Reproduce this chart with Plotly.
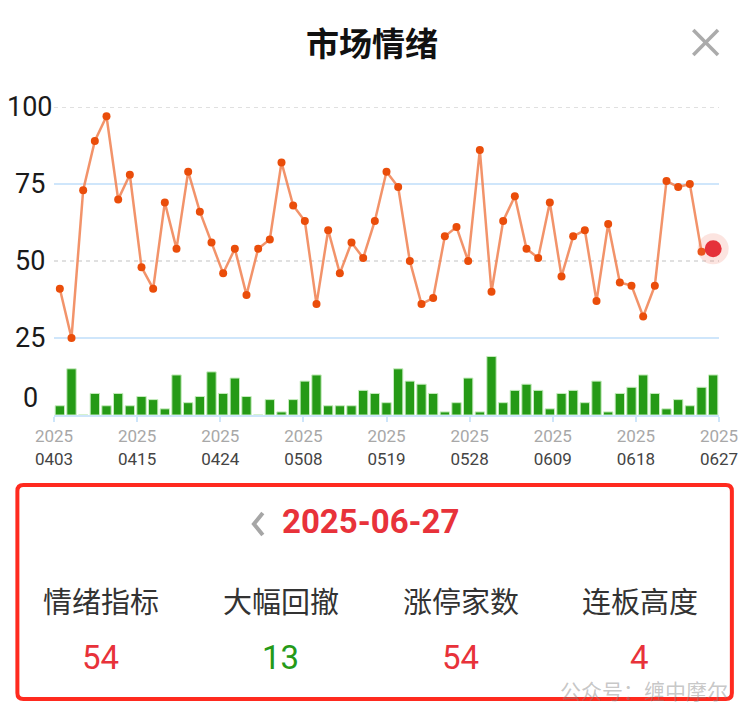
import plotly.graph_objects as go

# ---------------- data ----------------
trade_dates = [
    "0403", "0407", "0408", "0409", "0410", "0411", "0414", "0415", "0416", "0417",
    "0418", "0421", "0422", "0423", "0424", "0425", "0428", "0429", "0430",
    "0506", "0507", "0508", "0509", "0512", "0513", "0514", "0515", "0516", "0519",
    "0520", "0521", "0522", "0523", "0526", "0527", "0528", "0529", "0530",
    "0603", "0604", "0605", "0606", "0609", "0610", "0611", "0612", "0613", "0616",
    "0617", "0618", "0619", "0620", "0623", "0624", "0625", "0626", "0627",
]
sentiment = [41, 25, 73, 89, 97, 70, 78, 48, 41, 69, 54, 79, 66, 56, 46, 54, 39,
             54, 57, 82, 68, 63, 36, 60, 46, 56, 51, 63, 79, 74, 50, 36, 38, 58,
             61, 50, 86, 40, 63, 71, 54, 51, 69, 45, 58, 60, 37, 62, 43, 42, 32,
             42, 76, 74, 75, 53, 54]
drawdown = [3, 15, 0, 7, 3, 7, 3, 6, 5, 2, 13, 4, 6, 14, 7, 12, 6, 0, 5, 1, 5,
            11, 13, 3, 3, 3, 8, 7, 4, 15, 11, 10, 7, 1, 4, 12, 1, 19, 4, 8, 10,
            8, 2, 7, 8, 4, 11, 1, 7, 9, 13, 7, 2, 5, 3, 9, 13]
tick_year = "2025"
tick_days = ["0403", "0415", "0424", "0508", "0519", "0528", "0609", "0618", "0627"]
y_labels = [100, 75, 50, 25, 0]
summary_date = "2025-06-27"
summary_names = ["情绪指标", "大幅回撤", "涨停家数", "连板高度"]
summary_values = ["54", "13", "54", "4"]
summary_colors = ["#e8323a", "#259a18", "#e8323a", "#e8323a"]
title_text = "市场情绪"
watermark = "公众号：缠中摩尔"

# ---------------- layout geometry ----------------
W, H = 750, 714
L, R, T, B = 54, 24, 107, 299
PW, PH = W - L - R, H - T - B


def px(x):
    return (x - L) / PW


def py(y):
    return (H - B - y) / PH


n = len(trade_dates)
xs = list(range(n))
tickvals = [-0.5 + k * n / (len(tick_days) - 1) for k in range(len(tick_days))]
ticktext = [f"<span style='color:#a8a8a8'>{tick_year}</span><br>{d}" for d in tick_days]

fig = go.Figure()
fig.add_trace(go.Bar(
    x=xs, y=drawdown, width=0.8,
    marker=dict(color="#259a16", line=dict(color="#c6ecbe", width=1)),
    hoverinfo="skip", showlegend=False))
fig.add_trace(go.Scatter(
    x=xs, y=sentiment, mode="lines+markers",
    line=dict(color="rgba(240,128,80,0.85)", width=2.5),
    marker=dict(color="#ea4d0a", size=8),
    cliponaxis=False, showlegend=False))
fig.add_trace(go.Scatter(
    x=[xs[-1]], y=[sentiment[-1]], mode="markers",
    marker=dict(color="rgba(240,120,100,0.2)", size=31),
    cliponaxis=False, showlegend=False))
fig.add_trace(go.Scatter(
    x=[xs[-1]], y=[sentiment[-1]], mode="markers",
    marker=dict(color="#e5313a", size=17),
    cliponaxis=False, showlegend=False))

shapes = []
for v in [100, 75, 50, 25]:
    if v in (75, 25):
        ln = dict(color="#cfe6fb", width=2)
    else:
        ln = dict(color="#d6d6d6", width=1.5, dash="4px,4px")
    shapes.append(dict(type="line", xref="paper", yref="y", x0=0, x1=1, y0=v, y1=v,
                       line=ln, layer="below"))

# close icon
shapes.append(dict(type="line", xref="paper", yref="paper", x0=px(700), y0=py(30),
                   x1=px(725), y1=py(55), line=dict(color="#ababab", width=3.5)))
shapes.append(dict(type="line", xref="paper", yref="paper", x0=px(725), y0=py(30),
                   x1=px(700), y1=py(55), line=dict(color="#ababab", width=3.5)))
# chevron
shapes.append(dict(type="path", xref="paper", yref="paper",
                   path=f"M {px(265)},{py(513)} L {px(256)},{py(524)} L {px(265)},{py(535)}",
                   line=dict(color="#a6a6a6", width=4)))
# red rounded frame
x0, x1, y0, y1, r = 17, 739, 485, 699, 6
path = (f"M {px(x0 + r)},{py(y0)} L {px(x1 - r)},{py(y0)} Q {px(x1)},{py(y0)} {px(x1)},{py(y0 + r)} "
        f"L {px(x1)},{py(y1 - r)} Q {px(x1)},{py(y1)} {px(x1 - r)},{py(y1)} "
        f"L {px(x0 + r)},{py(y1)} Q {px(x0)},{py(y1)} {px(x0)},{py(y1 - r)} "
        f"L {px(x0)},{py(y0 + r)} Q {px(x0)},{py(y0)} {px(x0 + r)},{py(y0)} Z")
shapes.append(dict(type="path", xref="paper", yref="paper", path=path,
                   line=dict(color="#ff2a1f", width=4)))

annotations = []
CJK = "Noto Sans CJK SC"
annotations.append(dict(text=f"<b>{title_text}</b>", x=px(375), y=py(42), xref="paper", yref="paper",
                        showarrow=False, font=dict(family=CJK, size=33, color="#111111"),
                        xanchor="center", yanchor="middle"))
for v in y_labels:
    annotations.append(dict(text=str(v), x=px(30), y=v, xref="paper", yref="y",
                            yshift=17 if v == 0 else 0,
                            showarrow=False, font=dict(family="Roboto", size=27, color="#1a1a1a"),
                            xanchor="center", yanchor="middle"))
annotations.append(dict(text=f"<b>{summary_date}</b>", x=px(374), y=py(521), xref="paper", yref="paper",
                        showarrow=False, font=dict(family="Roboto", size=33, color="#e8323a"),
                        xanchor="center", yanchor="middle"))
name_x = [101, 283, 465, 646]
for cx, name, val, col in zip(name_x, summary_names, summary_values, summary_colors):
    annotations.append(dict(text=name, x=px(cx), y=py(600), xref="paper", yref="paper",
                            showarrow=False, font=dict(family=CJK, size=29, color="#333333"),
                            xanchor="center", yanchor="middle"))
    annotations.append(dict(text=val, x=px(cx), y=py(657), xref="paper", yref="paper",
                            showarrow=False, font=dict(family="Roboto", size=33, color=col),
                            xanchor="center", yanchor="middle"))
annotations.append(dict(text=watermark, x=px(650), y=py(690), xref="paper", yref="paper",
                        showarrow=False, font=dict(family=CJK, size=21, color="rgba(130,130,130,0.45)"),
                        xanchor="center", yanchor="middle"))

fig.update_layout(
    width=W, height=H, autosize=False,
    margin=dict(l=L, r=R, t=T, b=B, pad=0),
    paper_bgcolor="white", plot_bgcolor="white",
    bargap=0.2,
    xaxis=dict(range=[-0.5, n - 0.5], tickmode="array", tickvals=tickvals, ticktext=ticktext,
               showgrid=False, zeroline=False, showline=True, linecolor="#cde5fa", linewidth=2,
               ticks="outside", ticklen=5, tickwidth=1.5, tickcolor="#cde5fa",
               tickfont=dict(family="Roboto", size=17, color="#444444"), fixedrange=True),
    yaxis=dict(range=[0, 100], showticklabels=False, showgrid=False, zeroline=False,
               showline=False, fixedrange=True),
    shapes=shapes, annotations=annotations,
    hovermode=False,
)

fig.write_html(
    "out.html",
    config={"responsive": False, "displayModeBar": False},
    post_script="document.body.style.margin='0px';document.body.style.overflow='hidden';",
)
